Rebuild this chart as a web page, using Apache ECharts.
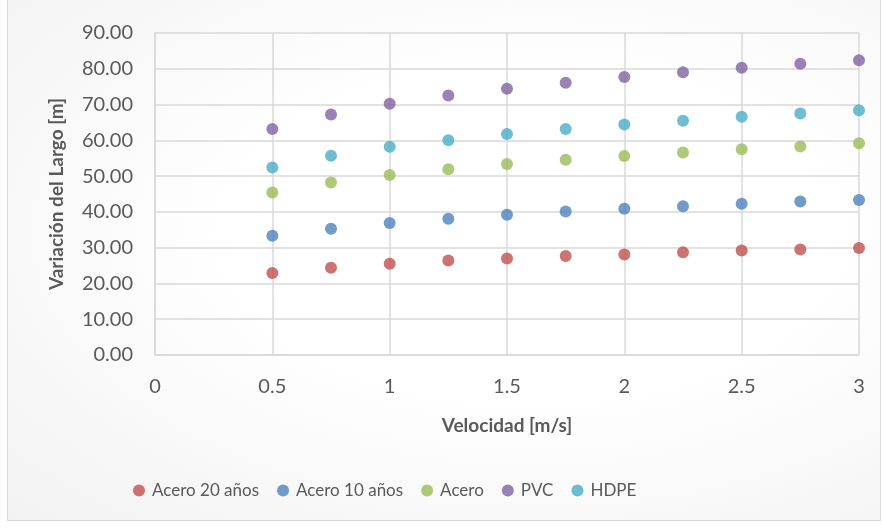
<!DOCTYPE html>
<html><head><meta charset="utf-8">
<script src="https://cdn.jsdelivr.net/npm/echarts@6/dist/echarts.min.js"></script>
<style>
html,body{margin:0;padding:0;background:#fff;}
#wrap{position:absolute;left:7px;top:0;width:874px;height:521px;border:1px solid #d9d9d9;border-top:none;box-sizing:border-box;
background:radial-gradient(ellipse at 60% 45%, #ffffff 40%, #f2f2f2 100%);}
#c{position:absolute;left:0;top:0;width:882px;height:529px;}
</style></head>
<body>
<div id="wrap"></div>
<div id="c"></div>
<script>
const velocidad = [0.5, 0.75, 1, 1.25, 1.5, 1.75, 2, 2.25, 2.5, 2.75, 3];
const acero20 = [22.9, 24.4, 25.5, 26.4, 27.0, 27.7, 28.1, 28.7, 29.2, 29.5, 29.9];
const acero10 = [33.3, 35.3, 36.9, 38.1, 39.2, 40.1, 40.9, 41.6, 42.3, 42.9, 43.3];
const acero = [45.4, 48.2, 50.3, 51.9, 53.4, 54.6, 55.6, 56.6, 57.5, 58.3, 59.2];
const pvc = [63.2, 67.2, 70.2, 72.5, 74.4, 76.1, 77.7, 79.0, 80.3, 81.4, 82.4];
const hdpe = [52.4, 55.7, 58.2, 60.0, 61.8, 63.2, 64.4, 65.5, 66.6, 67.5, 68.4];
const seriesNames = ['Acero 20 años', 'Acero 10 años', 'Acero', 'PVC', 'HDPE'];
const seriesValues = [acero20, acero10, acero, pvc, hdpe];
const colors = ['#C0504D', '#4F81BD', '#9BBB59', '#8064A2', '#4BACC6'];

const font = 'Lato, "Open Sans", sans-serif';
const chart = echarts.init(document.getElementById('c'), null, {renderer: 'canvas'});
chart.setOption({
  animation: false,
  backgroundColor: 'transparent',
  color: colors,
  grid: {left: 155, right: 23, top: 33, bottom: 174},
  xAxis: {
    type: 'value', min: 0, max: 3, interval: 0.5,
    name: 'Velocidad [m/s]', nameLocation: 'middle', nameGap: 61,
    nameTextStyle: {color: '#595959', fontSize: 19, fontWeight: 'bold', fontFamily: font},
    axisLine: {show: true, lineStyle: {color: '#d9d9d9', width: 1.5}},
    axisTick: {show: false},
    axisLabel: {color: '#595959', fontSize: 20, fontFamily: font, margin: 22},
    splitLine: {show: true, lineStyle: {color: '#d9d9d9', width: 1.5}}
  },
  yAxis: {
    type: 'value', min: 0, max: 90, interval: 10,
    name: 'Variación del Largo [m]', nameLocation: 'middle', nameGap: 89,
    nameTextStyle: {color: '#595959', fontSize: 19, fontWeight: 'bold', fontFamily: font},
    axisLine: {show: true, lineStyle: {color: '#d9d9d9', width: 1.5}},
    axisTick: {show: false},
    axisLabel: {color: '#595959', fontSize: 20, fontFamily: font, margin: 22,
      formatter: v => v.toFixed(2)},
    splitLine: {show: true, lineStyle: {color: '#d9d9d9', width: 1.5}}
  },
  legend: {
    bottom: 25, left: 128, itemGap: 18, itemWidth: 12, itemHeight: 12,
    icon: 'circle',
    textStyle: {color: '#595959', fontSize: 17, fontFamily: font, padding: [0, 0, 0, 2]},
    data: seriesNames
  },
  series: seriesNames.map((n, i) => ({
    name: n, type: 'scatter', symbol: 'circle', symbolSize: 12,
    data: velocidad.map((x, j) => [x, seriesValues[i][j]])
  }))
});
</script>
</body></html>
